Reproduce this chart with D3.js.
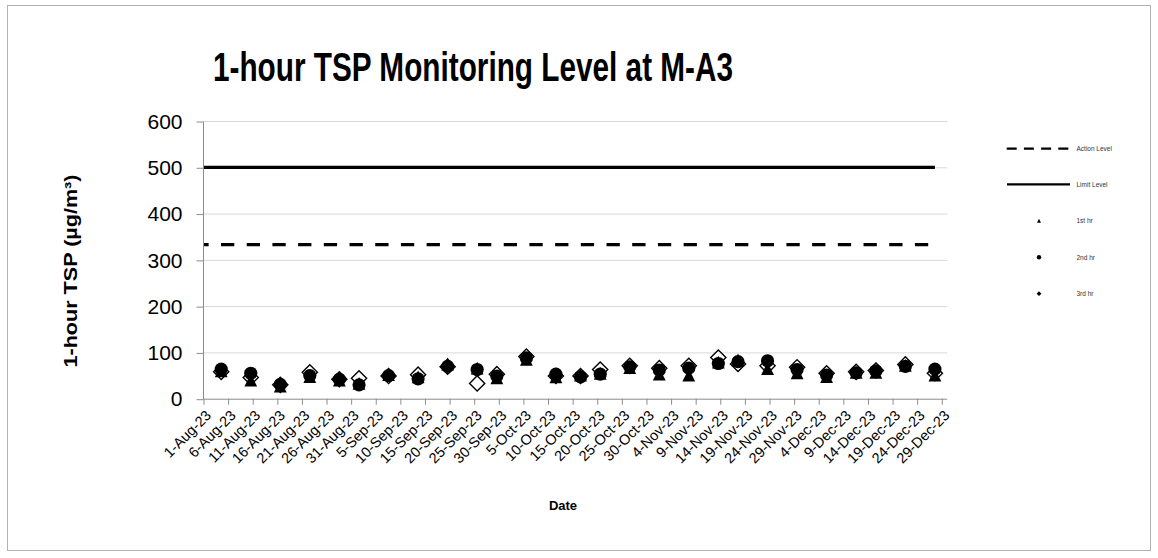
<!DOCTYPE html>
<html><head><meta charset="utf-8">
<script src="https://cdn.jsdelivr.net/npm/d3@7"></script>
<style>body{margin:0;background:#fff}svg{display:block}</style>
</head><body>
<svg id="c" width="1158" height="558"></svg>
<script>
// ---- data ----
const dates = ["2023-08-04","2023-08-10","2023-08-16","2023-08-22","2023-08-28","2023-09-01","2023-09-07","2023-09-13","2023-09-19","2023-09-25","2023-09-29","2023-10-05","2023-10-11","2023-10-16","2023-10-20","2023-10-26","2023-11-01","2023-11-07","2023-11-13","2023-11-17","2023-11-23","2023-11-29","2023-12-05","2023-12-11","2023-12-15","2023-12-21","2023-12-27"];
const hr1 = [60,40,27,48,40,33,52,47,75,66,45,85,47,51,55,67,53,51,79,84,65,56,48,57,57,72,51];
const hr2 = [64,55,31,50,42,30,50,43,70,63,49,88,53,47,53,69,62,66,76,80,82,63,51,56,60,70,64];
const hr3 = [58,46,30,57,42,44,49,52,69,33,53,91,49,49,63,71,66,71,89,75,71,68,55,58,61,74,55];
const actionLevel = 333;
const limitLevel = 500;
const levelDates = ["2023-07-30","2023-12-27"];
const yTicks = [0,100,200,300,400,500,600];
const axisStart = "2023-08-01", axisEnd = "2023-12-30", tickStepDays = 5;
const seriesNames = ["Action Level","Limit Level","1st hr","2nd hr","3rd hr"];
const titleText = "1-hour TSP Monitoring Level at M-A3";
const yTitle = "1-hour TSP (µg/m³)";
const xTitle = "Date";

// ---- setup ----
const svg = d3.select("#c");
const font = "'Liberation Sans', Arial, sans-serif";
const parse = d3.utcParse("%Y-%m-%d");
const fmt = d3.utcFormat("%-d-%b-%y");
const t0 = parse(axisStart), t1 = parse(axisEnd);
const pL = 204, pR = 947.2, pT = 121, pB = 398.7;
const x = d3.scaleUtc().domain([t0, t1]).range([pL, pR]);
const y = d3.scaleLinear().domain([0, 600]).range([pB, pT]);
const mid = d => d3.utcHour.offset(d, 12);

// outer frame
svg.append("rect").attr("x",7.5).attr("y",5.5).attr("width",1143).attr("height",545)
  .attr("fill","none").attr("stroke","#b3b3b3").attr("stroke-width",1);

// gridlines
svg.append("g").selectAll("line").data(yTicks.filter(v=>v>0)).join("line")
  .attr("x1",pL).attr("x2",pR).attr("y1",d=>y(d)+0.5).attr("y2",d=>y(d)+0.5)
  .attr("stroke","#d9d9d9").attr("stroke-width",1);

// y axis
const ya = svg.append("g").attr("transform",`translate(${pL-0.5},0.5)`)
  .call(d3.axisLeft(y).tickValues(yTicks).tickSize(7).tickPadding(14));
ya.select(".domain").attr("stroke","#8c8c8c").attr("d",`M0,${pT}V${pB}`);
ya.selectAll(".tick line").attr("stroke","#8c8c8c");
ya.selectAll(".tick text").attr("font-family",font).attr("font-size",21).attr("fill","#000");

// x axis
const tickDates = d3.range(0, 151, tickStepDays).map(i => d3.utcDay.offset(t0, i));
const xg = svg.append("g");
xg.append("line").attr("x1",pL-0.5).attr("x2",pR).attr("y1",pB+0.5).attr("y2",pB+0.5).attr("stroke","#8c8c8c");
xg.selectAll("line.tk").data(tickDates).join("line").attr("class","tk")
  .attr("x1",d=>x(d)).attr("x2",d=>x(d)).attr("y1",pB).attr("y2",pB+6).attr("stroke","#8c8c8c");
xg.selectAll("text").data(tickDates).join("text")
  .attr("transform",d=>`translate(${x(mid(d))+2},${pB+14}) rotate(-45)`)
  .attr("text-anchor","end").attr("dy","0.35em")
  .attr("font-family",font).attr("font-size",14.5).text(d=>fmt(d));

// clip for level lines
svg.append("clipPath").attr("id","clip").append("rect")
  .attr("x",pL).attr("y",pT-5).attr("width",pR-pL).attr("height",pB-pT+10);

const lvl = levelDates.map(parse);
const lineGen = d3.line().x(d=>x(mid(d[0]))).y(d=>y(d[1]));
svg.append("path").attr("clip-path","url(#clip)")
  .attr("d",lineGen(lvl.map(d=>[d,limitLevel])))
  .attr("stroke","#000").attr("stroke-width",3.2).attr("fill","none");
svg.append("path").attr("clip-path","url(#clip)")
  .attr("d",lineGen(lvl.map(d=>[d,actionLevel])))
  .attr("stroke","#000").attr("stroke-width",3.2).attr("fill","none")
  .attr("stroke-dasharray","13.3,12.4").attr("stroke-dashoffset",1.3);

// markers
const diamond = s => `M0,${-s}L${s},0L0,${s}L${-s},0Z`;
const triangle = s => `M0,${-s}L${s},${s}L${-s},${s}Z`;
const pts = dates.map((d,i)=>({d:mid(parse(d)),a:hr1[i],b:hr2[i],c:hr3[i]}));
const mk = svg.append("g");
mk.selectAll("path.s3").data(pts).join("path").attr("class","s3")
  .attr("d",diamond(7.6)).attr("transform",p=>`translate(${x(p.d)},${y(p.c)})`)
  .attr("fill","#fff").attr("stroke","#000").attr("stroke-width",1.4);
mk.selectAll("path.s1").data(pts).join("path").attr("class","s1")
  .attr("d",triangle(6.4)).attr("transform",p=>`translate(${x(p.d)},${y(p.a)})`)
  .attr("fill","#000");
mk.selectAll("circle.s2").data(pts).join("circle").attr("class","s2")
  .attr("cx",p=>x(p.d)).attr("cy",p=>y(p.b)).attr("r",6.6).attr("fill","#000");

// title
svg.append("text").attr("x",473).attr("y",81).attr("text-anchor","middle")
  .attr("font-family",font).attr("font-weight","bold").attr("font-size",40)
  .attr("textLength",520).attr("lengthAdjust","spacingAndGlyphs").text(titleText);

// y title
svg.append("text").attr("transform","translate(77,271) rotate(-90)").attr("text-anchor","middle")
  .attr("font-family",font).attr("font-weight","bold").attr("font-size",18)
  .attr("textLength",193).attr("lengthAdjust","spacingAndGlyphs").text(yTitle);

// x title
svg.append("text").attr("x",563).attr("y",510).attr("text-anchor","middle")
  .attr("font-family",font).attr("font-weight","bold").attr("font-size",13).text(xTitle);

// legend
const lg = svg.append("g");
const ly = [148.7,184.3,220.7,257.3,293.7];
lg.append("line").attr("x1",1006.7).attr("x2",1068.5).attr("y1",ly[0]).attr("y2",ly[0])
  .attr("stroke","#000").attr("stroke-width",2.2).attr("stroke-dasharray","10,7.2");
lg.append("line").attr("x1",1007).attr("x2",1070).attr("y1",ly[1]).attr("y2",ly[1])
  .attr("stroke","#000").attr("stroke-width",2.2);
lg.append("path").attr("d",triangle(2)).attr("transform",`translate(1039,${ly[2]})`).attr("fill","#000");
lg.append("circle").attr("cx",1039).attr("cy",ly[3]).attr("r",2.2).attr("fill","#000");
lg.append("path").attr("d",diamond(2.4)).attr("transform",`translate(1039,${ly[4]})`).attr("fill","#000");
lg.selectAll("text").data(seriesNames).join("text")
  .attr("x",1076.5).attr("y",(d,i)=>ly[i]).attr("dy","0.35em")
  .attr("font-family",font).attr("font-size",6.5).attr("fill","#333").text(d=>d);
</script>
</body></html>
